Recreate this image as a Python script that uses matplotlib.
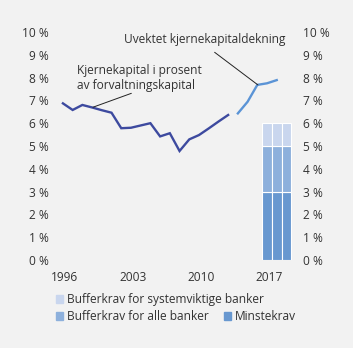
import matplotlib.pyplot as plt
import matplotlib.patches as mpatches

plt.rcParams['font.family'] = ['Open Sans', 'DejaVu Sans']
plt.rcParams['font.size'] = 8.6

BG = '#f2f2f2'
TXT = '#333333'

# Kjernekapital i prosent av forvaltningskapital
years_core = list(range(1996, 2014))
core = [6.87, 6.58, 6.80, 6.69, 6.57, 6.46, 5.78, 5.80, 5.90, 6.00,
        5.42, 5.56, 4.78, 5.29, 5.48, 5.77, 6.07, 6.36]

# Uvektet kjernekapitaldekning
years_lev = [2014, 2015, 2016, 2017, 2018]
lev = [6.43, 6.94, 7.68, 7.75, 7.89]

# krav (stacked bars)
years_req = [2017, 2018, 2019]
minstekrav = [3, 3, 3]
buffer_alle = [2, 2, 2]
buffer_sys = [1, 1, 1]

yticks = list(range(0, 11))
xticks = [1996, 2003, 2010, 2017]

c_core = '#3d4a9f'
c_lev = '#5b94d6'
c_min = '#6898d0'
c_alle = '#8db0dc'
c_sys = '#c9d6ee'

fig = plt.figure(figsize=(3.53, 3.48), dpi=100, facecolor=BG)
ax = fig.add_axes([0.159, 0.253, 0.680, 0.655], facecolor=BG)

ax.bar(years_req, minstekrav, width=1.0, color=c_min, edgecolor='white', linewidth=0.8)
ax.bar(years_req, buffer_alle, width=1.0, bottom=minstekrav, color=c_alle,
       edgecolor='white', linewidth=0.8)
bottom2 = [a + b for a, b in zip(minstekrav, buffer_alle)]
ax.bar(years_req, buffer_sys, width=1.0, bottom=bottom2, color=c_sys,
       edgecolor='white', linewidth=0.8)

ax.plot(years_core, core, color=c_core, lw=1.7, solid_joinstyle='miter')
ax.plot(years_lev, lev, color=c_lev, lw=1.7, solid_joinstyle='miter')

ax.set_xlim(1995.3, 2020)
ax.set_ylim(0, 10)
ax.set_yticks(yticks)
ax.set_yticklabels([f'{v} %' for v in yticks])
ax.set_xticks([x + 0.2 for x in xticks])
ax.set_xticklabels([str(x) for x in xticks])
ax.tick_params(axis='both', length=0, colors=TXT, labelsize=8.6)
ax.tick_params(axis='y', which='both', labelleft=True, labelright=True, pad=5)
ax.tick_params(axis='x', pad=8)
for s in ax.spines.values():
    s.set_visible(False)

# annotations
ax.text(1997.41, 8.0, 'Kjernekapital i prosent\nav forvaltningskapital',
        ha='left', va='center', color=TXT, linespacing=1.2)
ax.annotate('', xy=(1999.09, 6.70), xytext=(2003.04, 7.31),
            arrowprops=dict(arrowstyle='-', color='#222222', lw=0.7,
                            shrinkA=0, shrinkB=0))
ax.text(2002.25, 9.65, 'Uvektet kjernekapitaldekning',
        ha='left', va='center', color=TXT)
ax.annotate('', xy=(2016.06, 7.68), xytext=(2011.61, 9.11),
            arrowprops=dict(arrowstyle='-', color='#222222', lw=0.7,
                            shrinkA=0, shrinkB=0))

# legends
h_sys = mpatches.Patch(color=c_sys, label='Bufferkrav for systemviktige banker')
h_alle = mpatches.Patch(color=c_alle, label='Bufferkrav for alle banker')
h_min = mpatches.Patch(color=c_min, label='Minstekrav')
leg_kw = dict(frameon=False, handlelength=0.6, handleheight=0.6,
              handletextpad=0.3, borderpad=0, borderaxespad=0,
              labelcolor=TXT, fontsize=8.6)
fig.legend(handles=[h_sys], loc='center left',
           bbox_to_anchor=(56 / 353, 1 - 300 / 348), **leg_kw)
fig.legend(handles=[h_alle, h_min], loc='center left', ncol=2,
           columnspacing=1.3,
           bbox_to_anchor=(56 / 353, 1 - 317 / 348), **leg_kw)

fig.savefig('out.png', dpi=100, facecolor=BG)
